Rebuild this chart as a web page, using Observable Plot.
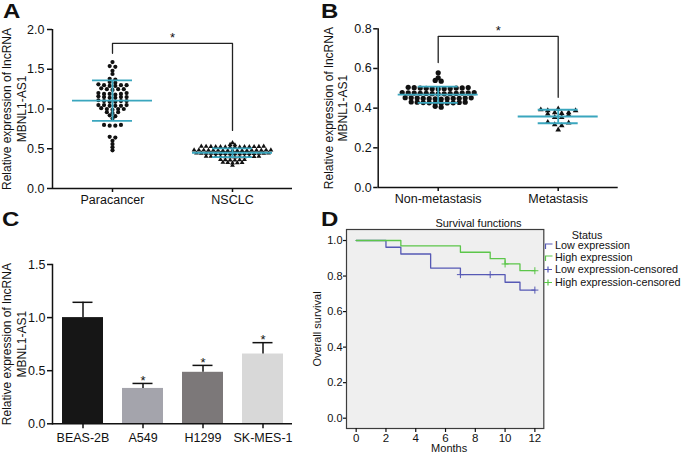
<!DOCTYPE html>
<html>
<head>
<meta charset="utf-8">
<script src="https://cdn.jsdelivr.net/npm/d3@7"></script>
<script src="https://cdn.jsdelivr.net/npm/@observablehq/plot@0.6"></script>
<style>
  html, body { margin: 0; padding: 0; background: #fff; }
  #fig { position: relative; width: 685px; height: 454px; overflow: hidden; background: #fff;
         font-family: "Liberation Sans", Arial, Helvetica, sans-serif; color: #111; }
  #fig svg.plotsvg { position: absolute; overflow: visible; }
  .letter { position: absolute; font-weight: bold; font-size: 20px; line-height: 20px;
            transform: scaleX(1.2); transform-origin: left top; }
  .txt { position: absolute; white-space: nowrap; font-size: 11px; line-height: 13px; }
  .lg { position: absolute; white-space: nowrap; font-size: 10.8px; line-height: 13px; }
  .lg svg { position: absolute; left: -11px; top: 2px; overflow: visible; }
</style>
</head>
<body>
<div id="fig"></div>
<script>
// ---------------- DATA ----------------
const yLabelText = "Relative expression of lncRNA\nMBNL1-AS1";

// Panel A
const groupsA = ["Paracancer", "NSCLC"];
const paracancer = [
  1.59, 1.54, 1.53, 1.48, 1.44, 1.38, 1.37, 1.34, 1.33,
  1.30, 1.29, 1.30, 1.31, 1.29, 1.30,
  1.25, 1.26, 1.25, 1.24, 1.25,
  1.19, 1.20, 1.19, 1.18, 1.19, 1.20,
  1.15, 1.14, 1.15, 1.16, 1.15, 1.14,
  1.10, 1.09, 1.10, 1.11, 1.09, 1.10,
  1.05, 1.04, 1.05, 1.04, 1.05, 1.04,
  1.00, 1.01, 1.00, 0.99, 1.00,
  0.96, 0.95, 0.96, 0.92, 0.91, 0.88,
  0.80, 0.79, 0.80, 0.79,
  0.65, 0.64, 0.60, 0.56, 0.52, 0.48
];
const nsclc = [
  0.575, 0.552, 0.548,
  0.530, 0.525, 0.520, 0.528, 0.522, 0.530, 0.526, 0.524, 0.520, 0.527, 0.523, 0.529, 0.521, 0.525,
  0.484, 0.478, 0.481, 0.476, 0.483, 0.479, 0.480, 0.477, 0.482, 0.478, 0.481, 0.484, 0.476, 0.480, 0.479, 0.483, 0.477,
  0.444, 0.438, 0.441, 0.436, 0.443, 0.439, 0.440, 0.437, 0.442, 0.438, 0.441, 0.444, 0.436, 0.440, 0.439, 0.443,
  0.404, 0.398, 0.401, 0.396, 0.403, 0.399, 0.400, 0.397, 0.402, 0.398, 0.401, 0.404,
  0.362, 0.358, 0.360, 0.356, 0.363, 0.359,
  0.327, 0.322, 0.325, 0.321, 0.328,
  0.290
];
const meanA = [1.105, 0.45];
const sdA = [0.255, 0.055];
const bracketA = [1.70, 1.825, 0.73];   // left end, top, right end

// Panel B
const groupsB = ["Non-metastasis", "Metastasis"];
const nonMetastasis = [
  0.578, 0.553, 0.540, 0.536,
  0.503, 0.498, 0.501, 0.505, 0.497, 0.500, 0.502, 0.499, 0.504, 0.498, 0.501,
  0.478, 0.473, 0.476, 0.472, 0.477, 0.474, 0.475, 0.479, 0.473, 0.476, 0.474, 0.477, 0.472,
  0.453, 0.448, 0.451, 0.447, 0.452, 0.449, 0.450, 0.446, 0.452, 0.448, 0.451, 0.449,
  0.430, 0.426, 0.429, 0.425, 0.431, 0.427, 0.428, 0.426, 0.430, 0.427,
  0.409, 0.405
];
const metastasis = [0.397, 0.392, 0.388, 0.388, 0.378, 0.378, 0.374, 0.371, 0.366, 0.354, 0.354, 0.329, 0.326, 0.317, 0.312, 0.291];
const meanB = [0.468, 0.358];
const sdB = [0.041, 0.034];
const bracketB = [0.63, 0.762, 0.455];

// Panel C
const cellLines = ["BEAS-2B", "A549", "H1299", "SK-MES-1"];
const cellMeans = [1.0, 0.333, 0.485, 0.657];
const cellErrors = [0.144, 0.047, 0.065, 0.107];
const cellStars = ["", "*", "*", "*"];
const cellColors = ["#161616", "#a4a4ac", "#7c7879", "#d8d8d8"];

// Panel D
const survLowTimes = [0, 2, 3, 5, 7, 10, 11, 12];
const survLow = [1.0, 0.962, 0.924, 0.845, 0.808, 0.765, 0.721, 0.721];
const survHighTimes = [0, 3, 7, 9, 10, 11, 12];
const survHigh = [1.0, 0.970, 0.934, 0.898, 0.868, 0.830, 0.830];
const censLowTimes = [7, 9, 12];
const censHighTimes = [10, 12];
const monthTicks = [0, 2, 4, 6, 8, 10, 12];
const survTicks = [0, 0.2, 0.4, 0.6, 0.8, 1.0];
const survLegend = ["Low expression", "High expression", "Low expression-censored", "High expression-censored"];

// ---------------- DRAWING ----------------
const fig = document.getElementById("fig");
const FONT = "'Liberation Sans', Arial, Helvetica, sans-serif";
const INK = "#111";
const TEAL = "#3aa6be";
const BLUE = "#5659b5";
const GREEN = "#5cc64a";

function place(node, left, top) {
  node.classList.add("plotsvg");
  node.style.left = left + "px";
  node.style.top = top + "px";
  fig.appendChild(node);
}
function addText(cls, text, left, top, extra = {}) {
  const d = document.createElement("div");
  d.className = cls;
  d.textContent = text;
  d.style.left = left + "px";
  d.style.top = top + "px";
  Object.assign(d.style, extra);
  fig.appendChild(d);
  return d;
}
const baseStyle = (fs) => ({fontFamily: FONT, fontSize: fs, color: INK, background: "transparent", overflow: "visible"});

// row-binned beeswarm layout (GraphPad-like): offsets in x-scale units
function swarm(values, gi, rowGap, step) {
  const sorted = [...values].sort((a, b) => a - b);
  const rows = [];
  for (const v of sorted) {
    const row = rows[rows.length - 1];
    if (!row || v - row[0] > rowGap) rows.push([v]); else row.push(v);
  }
  const pts = [];
  for (const row of rows) {
    const n = row.length;
    const desc = [...row].sort((a, b) => b - a);
    desc.forEach((v, k) => {
      const pos = k % 2 === 0 ? k / 2 : n - 1 - (k - 1) / 2;
      pts.push({x: gi + (pos - (n - 1) / 2) * step, y: v});
    });
  }
  return pts;
}

function swarmPanel(cfg) {
  const xDomain = [-0.5, cfg.groups.length - 0.5];
  const pts = cfg.series.map((vals, i) => swarm(vals, i, cfg.rowGaps[i], cfg.steps[i]));
  const stats = cfg.groups.map((g, i) => ({i, mean: cfg.means[i], lo: cfg.means[i] - cfg.sds[i], hi: cfg.means[i] + cfg.sds[i]}));
  const [bl, bt, br] = cfg.bracket;
  const bracketPts = [{x: 0, y: bl}, {x: 0, y: bt}, {x: 1, y: bt}, {x: 1, y: br}];
  return Plot.plot({
    width: cfg.width, height: cfg.height,
    marginLeft: cfg.m[0], marginRight: cfg.m[1], marginTop: cfg.m[2], marginBottom: cfg.m[3],
    x: {domain: xDomain},
    y: {domain: cfg.yDomain},
    style: baseStyle("12px"),
    marks: [
      Plot.dot(pts[0], {x: "x", y: "y", r: cfg.radii[0], symbol: "circle", fill: INK}),
      Plot.dot(pts[1], {x: "x", y: "y", r: cfg.radii[1], symbol: "triangle", fill: INK}),
      Plot.ruleY(stats, {y: "mean", x1: d => d.i - 1/3, x2: d => d.i + 1/3, stroke: TEAL, strokeWidth: 1.8}),
      Plot.ruleY(stats, {y: "lo", x1: d => d.i - 1/6, x2: d => d.i + 1/6, stroke: TEAL, strokeWidth: 1.8}),
      Plot.ruleY(stats, {y: "hi", x1: d => d.i - 1/6, x2: d => d.i + 1/6, stroke: TEAL, strokeWidth: 1.8}),
      Plot.ruleX(stats, {x: "i", y1: "lo", y2: "hi", stroke: TEAL, strokeWidth: 1.8}),
      Plot.line(bracketPts, {x: "x", y: "y", stroke: "#222", strokeWidth: 1.3}),
      Plot.text(["*"], {x: 0.5, y: bt, text: d => d, fontSize: 13, dy: -6}),
      Plot.ruleY([cfg.yDomain[0]], {stroke: INK, strokeWidth: 1.5}),
      Plot.ruleX([xDomain[0]], {stroke: INK, strokeWidth: 1.5}),
      Plot.axisY({ticks: cfg.yTicks, tickFormat: d3.format(".1f"), tickSize: cfg.tick[0], tickPadding: cfg.tick[1],
                  strokeWidth: 1.5, label: null, fontSize: 12.5}),
      Plot.axisX({ticks: [0, 1], tickFormat: i => cfg.groups[i], tickSize: 4, tickPadding: 3,
                  strokeWidth: 1.5, label: null, fontSize: 12.5}),
      Plot.text([yLabelText], {frameAnchor: "left", rotate: -90, textAnchor: "middle", lineAnchor: "top",
                  lineHeight: 1.2, dx: -cfg.labelOffset, text: d => d, fontSize: 12})
    ]
  });
}

// Panel A
place(swarmPanel({
  groups: groupsA, series: [paracancer, nsclc], means: meanA, sds: sdA, bracket: bracketA,
  rowGaps: [0.025, 0.015], steps: [0.047, 0.04], radii: [2.1, 1.8],
  yDomain: [0, 2], yTicks: [0, 0.5, 1, 1.5, 2], tick: [5, 3],
  width: 320, height: 212, m: [52, 28, 29, 24], labelOffset: 51.5
}), 0, 0);

// Panel B
place(swarmPanel({
  groups: groupsB, series: [nonMetastasis, metastasis], means: meanB, sds: sdB, bracket: bracketB,
  rowGaps: [0.012, 0.02], steps: [0.05, 0.058], radii: [2.6, 2.1],
  yDomain: [0, 0.8], yTicks: [0, 0.2, 0.4, 0.6, 0.8], tick: [4.5, 2],
  width: 330, height: 212, m: [62.7, 27.3, 28.3, 25], labelOffset: 55.5
}), 315, 0);

// Panel C
const cells = cellLines.map((name, i) => ({name, mean: cellMeans[i], top: cellMeans[i] + cellErrors[i], color: cellColors[i], star: cellStars[i]}));
place(Plot.plot({
  width: 320, height: 254, marginLeft: 52, marginRight: 28, marginTop: 64, marginBottom: 30.7,
  x: {domain: cellLines, paddingInner: 0.317, paddingOuter: 0.158, align: 0.5},
  y: {domain: [0, 1.5]},
  color: {type: "identity"},
  style: baseStyle("12px"),
  marks: [
    Plot.barY(cells, {x: "name", y: "mean", fill: "color"}),
    Plot.ruleX(cells, {x: "name", y1: "mean", y2: "top", stroke: INK, strokeWidth: 1.5}),
    Plot.tickY(cells, {x: "name", y: "top", stroke: INK, strokeWidth: 1.5, insetLeft: 10.5, insetRight: 10.5}),
    Plot.text(cells, {x: "name", y: "top", text: "star", dy: -3, fontSize: 13}),
    Plot.ruleY([0], {stroke: INK, strokeWidth: 1.5}),
    Plot.frame({anchor: "left", stroke: INK, strokeWidth: 1.5}),
    Plot.axisY({ticks: [0, 0.5, 1, 1.5], tickFormat: d3.format(".1f"), tickSize: 5, tickPadding: 2, strokeWidth: 1.5, label: null, fontSize: 12.5}),
    Plot.axisX({tickSize: 5, tickPadding: 4, strokeWidth: 1.5, label: null, fontSize: 12.5}),
    Plot.text([yLabelText], {frameAnchor: "left", rotate: -90, textAnchor: "middle", lineAnchor: "top",
                lineHeight: 1.2, dx: -51.5, text: d => d, fontSize: 12})
  ]
}), 0, 200);

// Panel D
const survAt = (times, surv, t) => surv[d3.bisectRight(times, t) - 1];
const lowSeries = survLowTimes.map((t, i) => ({t, s: survLow[i]}));
const highSeries = survHighTimes.map((t, i) => ({t, s: survHigh[i]}));
const censLow = censLowTimes.map(t => ({t, s: survAt(survLowTimes, survLow, t)}));
const censHigh = censHighTimes.map(t => ({t, s: survAt(survHighTimes, survHigh, t)}));
place(Plot.plot({
  width: 385, height: 254, marginLeft: 46, marginRight: 141.7, marginTop: 29, marginBottom: 26,
  x: {domain: [-0.65, 12.6]},
  y: {domain: [-0.058, 1.062]},
  style: baseStyle("11px"),
  marks: [
    Plot.frame({fill: "#efefef", stroke: "#3c3c3c", strokeWidth: 1.2}),
    Plot.line(lowSeries, {x: "t", y: "s", curve: "step-after", stroke: BLUE, strokeWidth: 1.3}),
    Plot.line(highSeries, {x: "t", y: "s", curve: "step-after", stroke: GREEN, strokeWidth: 1.3}),
    Plot.dot(censLow, {x: "t", y: "s", symbol: "plus", r: 2.4, stroke: BLUE, strokeWidth: 1}),
    Plot.dot(censHigh, {x: "t", y: "s", symbol: "plus", r: 2.4, stroke: GREEN, strokeWidth: 1}),
    Plot.axisX({ticks: monthTicks, tickSize: 4, tickPadding: 1, strokeWidth: 1.2, label: null, fontSize: 11.5}),
    Plot.axisY({ticks: survTicks, tickFormat: d3.format(".1f"), tickSize: 3, tickPadding: 1, strokeWidth: 1.2, label: null, fontSize: 11}),
    Plot.text(["Overall survival"], {frameAnchor: "left", rotate: -90, textAnchor: "middle", lineAnchor: "top",
                dx: -33, text: d => d, fontSize: 11}),
    Plot.text(["Months"], {frameAnchor: "bottom", lineAnchor: "top", dy: 16, dx: 4, text: d => d, fontSize: 11})
  ]
}), 300, 200);

// Panel D title and legend
addText("txt", "Survival functions", 478.5, 216.8, {transform: "translateX(-50%)"});
addText("lg", "Status", 587, 228.5, {transform: "translateX(-50%)"});
survLegend.forEach((label, i) => {
  const d = addText("lg", label, 555, 239.2 + i * 12.1);
  const censored = i >= 2;
  const col = i % 2 === 0 ? BLUE : GREEN;
  const path = censored ? "M0,4.5 H8 M4,1.5 V7.5" : "M1.5,8 V3 H8.5";
  d.insertAdjacentHTML("afterbegin",
    `<svg width="10" height="10"><path d="${path}" fill="none" stroke="${col}" stroke-width="1.2"/></svg>`);
});

// Panel letters
addText("letter", "A", 3, 1);
addText("letter", "B", 321, 1);
addText("letter", "C", 2, 209);
addText("letter", "D", 321, 209);
</script>
</body>
</html>
